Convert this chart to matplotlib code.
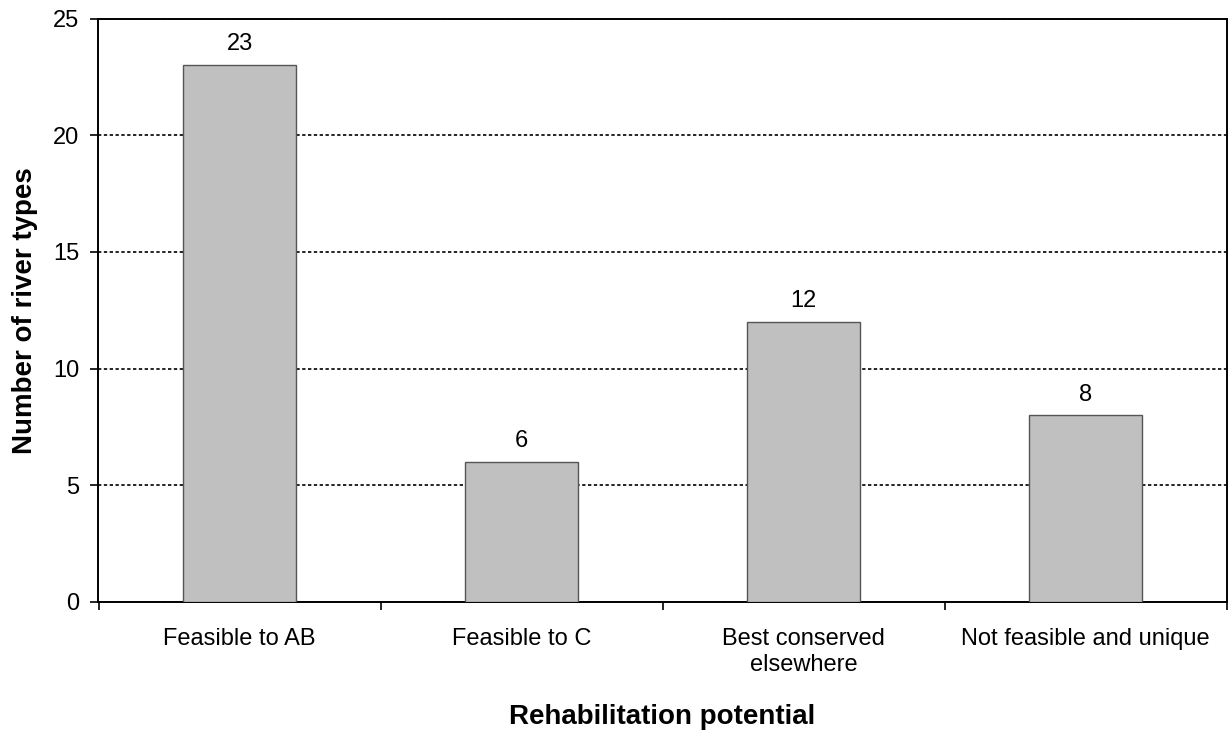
import matplotlib
matplotlib.use("Agg")
import matplotlib.pyplot as plt
import numpy as np

#chart data
categories = ["Feasible to AB", "Feasible to C", "Best conserved\nelsewhere", "Not feasible and unique"]
counts = [23, 6, 12, 8]
yticks = [0, 5, 10, 15, 20, 25]

plt.rcParams['font.family'] = ['Liberation Sans', 'DejaVu Sans']

fig = plt.figure(figsize=(12.28, 7.31), dpi=100)
ax = fig.add_axes([98.5 / 1228, 1 - 602 / 731, 1128 / 1228, 583.5 / 731])

x = np.arange(len(categories))
bars = ax.bar(x, counts, width=0.4, color="#C0C0C0", edgecolor="#555555", linewidth=1.0, zorder=3)

#value labels above bars
for xi, v in zip(x, counts):
    ax.annotate(str(v), (xi, v), xytext=(0, 7), textcoords="offset points",
                ha="center", va="bottom", fontsize=17)

ax.set_xlim(-0.5, len(categories) - 0.5)
ax.set_ylim(0, 25)
ax.set_yticks(yticks)
ax.tick_params(axis="y", labelsize=17, length=6, width=1.2, pad=8, direction="out")

#ticks at category boundaries, labels at centers
ax.set_xticks(np.arange(-0.5, len(categories), 1.0))
ax.set_xticklabels([])
ax.set_xticks(x, minor=True)
ax.set_xticklabels(categories, minor=True, fontsize=17)
ax.tick_params(axis="x", which="major", length=6, width=1.2, direction="out")
ax.tick_params(axis="x", which="minor", length=0, pad=19)

ax.yaxis.grid(True, color="black", linestyle=(0, (2, 1.5)), linewidth=1.2, zorder=0)
ax.set_axisbelow(True)

for s in ax.spines.values():
    s.set_linewidth(1.4)
    s.set_color("black")

ax.set_ylabel("Number of river types", fontsize=20, fontweight="bold", labelpad=11)
ax.set_xlabel("Rehabilitation potential", fontsize=20, fontweight="bold", labelpad=20)

fig.savefig("out.png", dpi=100)
